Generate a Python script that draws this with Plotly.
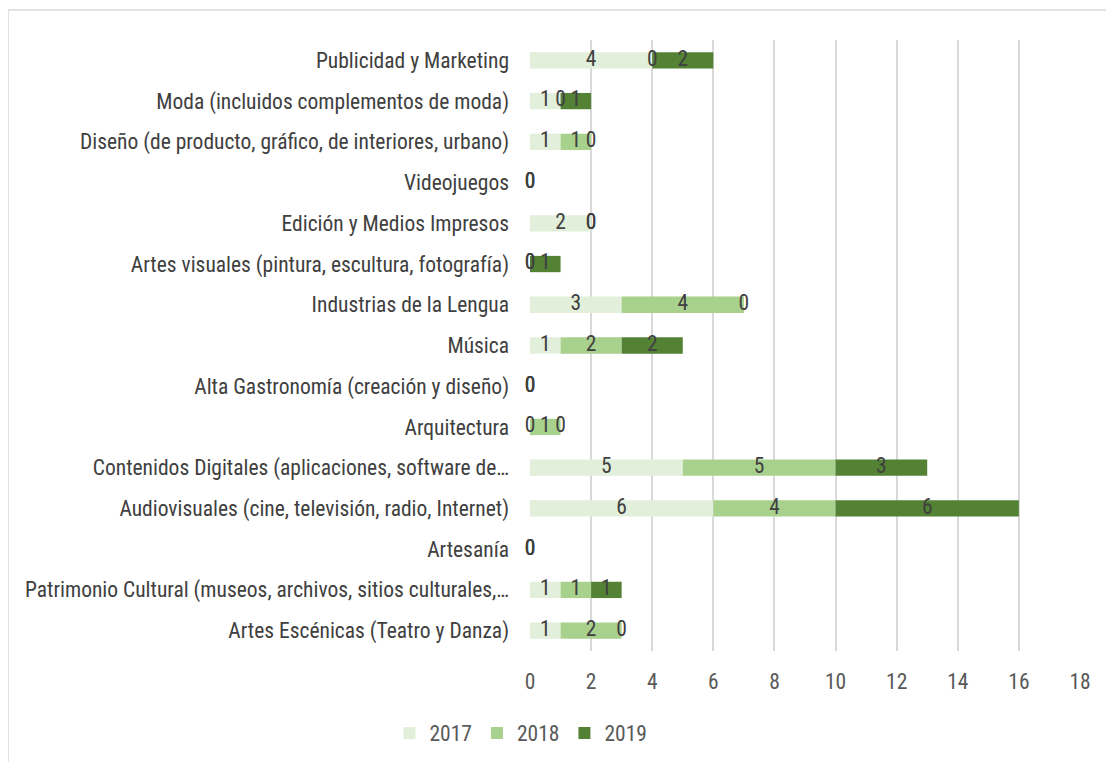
import plotly.graph_objects as go

categories = [
    "Artes Escénicas (Teatro y Danza)",
    "Patrimonio Cultural (museos, archivos, sitios culturales,…",
    "Artesanía",
    "Audiovisuales (cine, televisión, radio, Internet)",
    "Contenidos Digitales (aplicaciones, software de…",
    "Arquitectura",
    "Alta Gastronomía (creación y diseño)",
    "Música",
    "Industrias de la Lengua",
    "Artes visuales (pintura, escultura, fotografía)",
    "Edición y Medios Impresos",
    "Videojuegos",
    "Diseño (de producto, gráfico, de interiores, urbano)",
    "Moda (incluidos complementos de moda)",
    "Publicidad y Marketing",
]
v2017 = [1, 1, 0, 6, 5, 0, 0, 1, 3, 0, 2, 0, 1, 1, 4]
v2018 = [2, 1, 0, 4, 5, 1, 0, 2, 4, 0, 0, 0, 1, 0, 0]
v2019 = [0, 1, 0, 6, 3, 0, 0, 2, 0, 1, 0, 0, 0, 1, 2]
series_names = ["2017", "2018", "2019"]
x_ticks = [0, 2, 4, 6, 8, 10, 12, 14, 16, 18]

colors = ["#E2EFDA", "#A9D18E", "#548235"]
FONT = "Liberation Sans Narrow, Arial Narrow, Roboto Condensed, Liberation Sans, sans-serif"
FS = 21.5

fig = go.Figure()
series = [v2017, v2018, v2019]
base = [0] * len(categories)
for name, vals, col in zip(series_names, series, colors):
    fig.add_trace(go.Bar(
        name=name, y=categories, x=vals, base=base, orientation="h",
        marker=dict(color=col, line=dict(width=0)),
    ))
    mids = [b + v / 2 for b, v in zip(base, vals)]
    fig.add_trace(go.Scatter(
        x=mids, y=categories, mode="text", text=[str(v) for v in vals],
        textposition="middle center", cliponaxis=False,
        textfont=dict(family=FONT, size=FS, color="#404040"),
        showlegend=False, hoverinfo="skip",
    ))
    base = [b + v for b, v in zip(base, vals)]

# page has an 8px body margin: figure pixel = screen pixel - 8
OFF = 8
W, H = 1114 - OFF, 762 - OFF
L = 530 - OFF
T = 40 - OFF
R = W - (1080 - OFF)
B = H - (651 - OFF)
pw = W - L - R
ph = H - T - B

def px_x(p):
    return (p - OFF - L) / pw

def px_y(p):
    return (H - B - (p - OFF)) / ph

fig.add_shape(type="rect", xref="paper", yref="paper",
              x0=px_x(8), x1=px_x(1130), y0=px_y(780), y1=px_y(10),
              line=dict(color="#D9D9D9", width=1.5), fillcolor="rgba(0,0,0,0)", layer="below")

fig.update_layout(
    width=W, height=H,
    margin=dict(l=L, r=R, t=T, b=B, autoexpand=False),
    barmode="overlay", bargap=0.6,
    plot_bgcolor="white", paper_bgcolor="white",
    font=dict(family=FONT, size=FS, color="#595959"),
    showlegend=True,
    legend=dict(orientation="h", xref="container", yref="container",
                x=(521 - OFF) / W, xanchor="center",
                y=1 - (733 - OFF) / H, yanchor="middle",
                font=dict(family=FONT, size=FS, color="#595959"),
                itemwidth=30, traceorder="normal"),
    xaxis=dict(range=[0, 18], tickvals=x_ticks, showgrid=True, gridcolor="#D9D9D9",
               gridwidth=1.5, zeroline=False, showline=False, automargin=False,
               tickfont=dict(family=FONT, size=FS, color="#595959"),
               ticklabelstandoff=15),
    yaxis=dict(categoryorder="array", categoryarray=categories, showgrid=False,
               zeroline=False, showline=False, automargin=False,
               tickfont=dict(family=FONT, size=FS, color="#404040"),
               ticklabelstandoff=20, range=[-0.5, len(categories) - 0.5]),
)

fig.write_html("out.html")
